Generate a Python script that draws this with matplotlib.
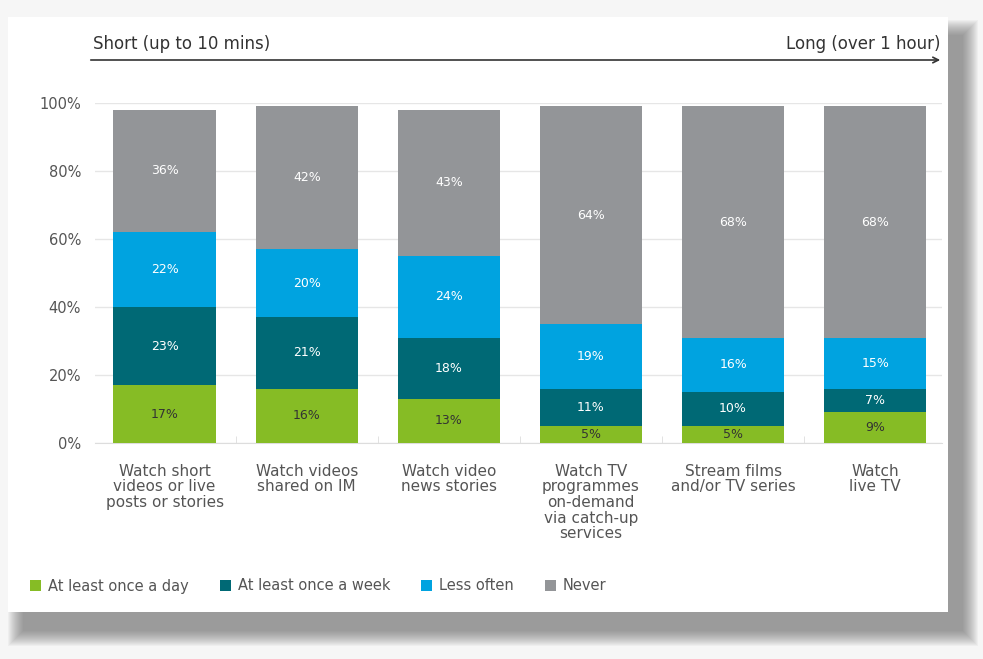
import matplotlib
matplotlib.use("Agg")
import matplotlib.pyplot as plt
from matplotlib.patches import Rectangle
import numpy as np

categories = [
    "Watch short\nvideos or live\nposts or stories",
    "Watch videos\nshared on IM",
    "Watch video\nnews stories",
    "Watch TV\nprogrammes\non-demand\nvia catch-up\nservices",
    "Stream films\nand/or TV series",
    "Watch\nlive TV",
]
daily = [17, 16, 13, 5, 5, 9]
weekly = [23, 21, 18, 11, 10, 7]
less_often = [22, 20, 24, 19, 16, 15]
never = [36, 42, 43, 64, 68, 68]

series_names = ["At least once a day", "At least once a week", "Less often", "Never"]
colors = ["#86bc25", "#006975", "#00a3e0", "#939598"]
label_colors = ["#333333", "white", "white", "white"]

plt.rcParams["font.family"] = ["DejaVu Sans"]

W, H = 983, 659
fig = plt.figure(figsize=(W / 100, H / 100), dpi=100)
fig.patch.set_facecolor("#f6f6f6")


def px(x0, y0, x1, y1):
    # pixel box (top-left origin) -> figure fraction rect
    return (x0 / W, 1 - y1 / H, (x1 - x0) / W, (y1 - y0) / H)


# blurred drop shadow behind the white card, offset right and down
for i in range(16):
    grow = 16 - i
    x, y, w, h = px(24 - grow, 36 - grow, 962 + grow, 630 + grow)
    fig.patches.append(Rectangle((x, y), w, h, transform=fig.transFigure,
                                 facecolor="#606060", alpha=0.05,
                                 edgecolor="none", zorder=0))
x, y, w, h = px(8, 17, 948, 612)
fig.patches.append(Rectangle((x, y), w, h, transform=fig.transFigure,
                             facecolor="white", edgecolor="none", zorder=1))

ax = fig.add_axes(px(95, 103, 942, 443))
ax.set_zorder(2)
ax.patch.set_alpha(0)

x = np.arange(len(categories))
data = [daily, weekly, less_often, never]
bottom = np.zeros(len(categories))
for vals, name, col, lc in zip(data, series_names, colors, label_colors):
    vals = np.array(vals)
    ax.bar(x, vals, 0.72, bottom=bottom, color=col, label=name, zorder=3)
    for xi, b, v in zip(x, bottom, vals):
        ax.text(xi, b + v / 2, f"{v}%", ha="center", va="center",
                fontsize=9, color=lc, zorder=4)
    bottom += vals

ax.set_xlim(-0.49, 5.47)
ax.set_ylim(0, 100)
ax.set_yticks(range(0, 101, 20))
ax.set_yticklabels([f"{v}%" for v in range(0, 101, 20)], fontsize=10.5, color="#555555")
ax.yaxis.grid(True, color="#e6e6e6", linewidth=1, zorder=0)
ax.set_axisbelow(True)
for s in ["top", "right", "left"]:
    ax.spines[s].set_visible(False)
ax.spines["bottom"].set_color("#dddddd")
ax.tick_params(axis="y", length=0, pad=10)
ax.set_xticks(x)
ax.set_xticklabels(categories, fontsize=11, color="#555555", linespacing=1.05)
ax.set_xticks(x[:-1] + 0.5, minor=True)
ax.tick_params(axis="x", which="major", length=0, pad=15)
ax.tick_params(axis="x", which="minor", length=5, color="#dddddd", direction="in")

# duration arrow above the chart
ax.annotate("", xy=(943 / W, 1 - 60 / H), xytext=(88 / W, 1 - 60 / H),
            xycoords="figure fraction",
            arrowprops=dict(arrowstyle="->", color="#333333", lw=1.2))
fig.text(93 / W, 1 - 44 / H, "Short (up to 10 mins)", fontsize=12,
         color="#333333", va="center", ha="left", zorder=5)
fig.text(941 / W, 1 - 44 / H, "Long (over 1 hour)", fontsize=12,
         color="#333333", va="center", ha="right", zorder=5)

fig.legend(loc="center left", bbox_to_anchor=(30 / W, 1 - 586 / H), ncol=4,
           frameon=False, fontsize=10.5, handlelength=0.75, handleheight=0.75,
           handletextpad=0.5, columnspacing=2.1, labelcolor="#555555",
           borderaxespad=0, borderpad=0)

fig.savefig("out.png", dpi=100)
